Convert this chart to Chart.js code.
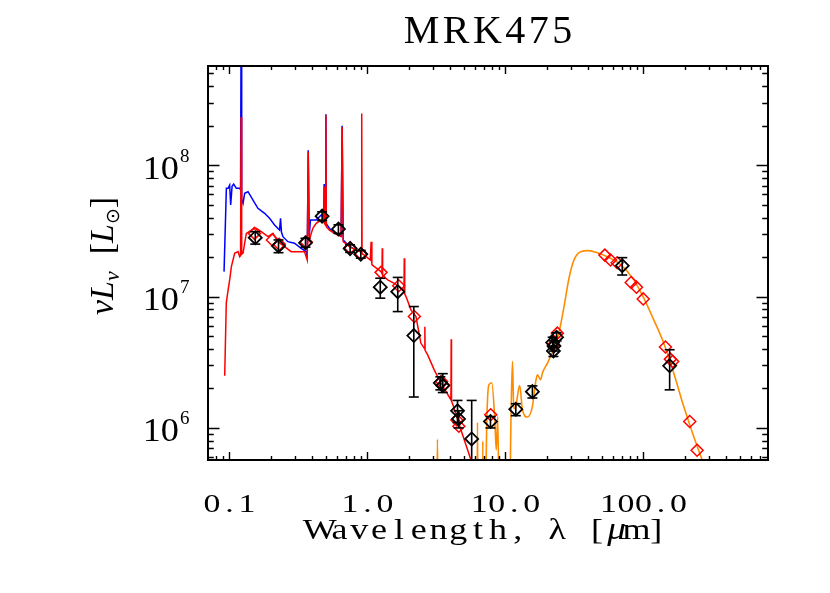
<!DOCTYPE html>
<html>
<head>
<meta charset="utf-8">
<script src="https://cdn.jsdelivr.net/npm/chart.js@4.4.0/dist/chart.umd.min.js"></script>
<style>
html, body { margin: 0; padding: 0; background: #fff; }
#wrap { width: 830px; height: 593px; }
</style>
</head>
<body>
<div id="wrap"><canvas id="sed" width="830" height="593"></canvas></div>
<script>
const titleText = 'MRK475'

// axis ranges and tick labels
const xRange = [0.07, 800]
const yRange = [5.7e5, 5.7e8]
const xTickValues = [0.1, 1, 10, 100]
const xTickLabels = ['0.1', '1.0', '10.0', '100.0']
const yTickValues = [1e6, 1e7, 1e8]
const yTickExp = ['6', '7', '8']

// unattenuated stellar model (blue)
const blueWave = [0.0915, 0.0951, 0.0979, 0.1005, 0.1022, 0.1046, 0.1074, 0.1123, 0.1187, 0.1205, 0.1216, 0.1228,
    0.1256, 0.129, 0.1365, 0.1483, 0.161, 0.18, 0.1955, 0.2126, 0.231, 0.2348, 0.2385, 0.2444, 0.2655, 0.2965,
    0.3313, 0.3605, 0.3664, 0.3727, 0.379, 0.387, 0.4256, 0.4626, 0.483, 0.4861, 0.489, 0.4975, 0.5007, 0.504,
    0.531, 0.577, 0.645, 0.6563, 0.668, 0.741, 0.829]
const blueLum = [1.55e7, 6.67e7, 6.67e7, 7.06e7, 4.98e7, 6.93e7, 7.18e7, 6.67e7, 6.67e7, 6.5e7, 1e9, 5.5e7,
    5.13e7, 6.11e7, 6.29e7, 5.43e7, 4.70e7, 4.31e7, 3.95e7, 3.51e7, 3.21e7, 3.95e7, 3.1e7, 2.86e7, 2.62e7, 2.55e7,
    2.33e7, 2.2e7, 1.96e7, 1.3e8, 2.9e7, 3.83e7, 3.83e7, 4.18e7, 4.0e7, 7.2e7, 3.9e7, 3.8e7, 2.45e8, 3.6e7,
    3.3e7, 3.1e7, 2.9e7, 2.0e8, 2.7e7, 2.42e7, 2.26e7]

// attenuated stellar model (red)
const redWave = [0.0925, 0.095, 0.0979, 0.1005, 0.1034, 0.1092, 0.1156, 0.1187, 0.1205, 0.1216, 0.1228, 0.1256,
    0.1327, 0.1443, 0.1567, 0.1703, 0.1905, 0.207, 0.225, 0.251, 0.2806, 0.314, 0.35, 0.3664, 0.3727, 0.379,
    0.4027, 0.4256, 0.4626, 0.483, 0.4861, 0.489, 0.4975, 0.5007, 0.504, 0.531, 0.577, 0.645, 0.6563, 0.668,
    0.741, 0.829, 0.905, 0.91, 0.915, 0.951, 1.05, 1.064, 1.078, 1.124, 1.256, 1.275, 1.282, 1.29, 1.404, 1.567,
    1.704, 1.84, 1.851, 1.865, 1.905, 2.07, 2.25, 2.44, 2.6, 2.61, 2.62, 2.735, 3.05, 3.41, 4.03, 4.05, 4.07,
    4.17, 4.76, 5.62, 6.11]
const redLum = [2.5e6, 9.0e6, 1.12e7, 1.34e7, 1.69e7, 2.14e7, 2.20e7, 2.01e7, 2.05e7, 2.33e8, 2.10e7, 2.14e7,
    3.03e7, 3.21e7, 3.31e7, 3.12e7, 2.86e7, 3.03e7, 2.62e7, 2.40e7, 2.20e7, 2.20e7, 2.20e7, 1.90e7, 1.27e8, 2.70e7,
    3.31e7, 3.61e7, 3.83e7, 3.70e7, 6.90e7, 3.60e7, 3.50e7, 2.40e8, 3.40e7, 3.21e7, 3.03e7, 2.86e7, 1.96e8, 2.62e7,
    2.40e7, 2.26e7, 2.18e7, 2.48e8, 2.12e7, 2.07e7, 1.9e7, 2.62e7, 1.75e7, 1.69e7, 1.55e7, 1.5e7, 2.33e7, 1.45e7, 1.34e7, 1.26e7,
    1.19e7, 1.1e7, 1.96e7, 1.05e7, 1.0e7, 7.93e6, 7.05e6, 4.43e6, 4.0e6, 5.9e6, 3.9e6, 3.6e6, 2.77e6, 2.2e6, 1.64e6, 4.74e6, 1.6e6,
    1.5e6, 9.7e5, 5.74e5, 4.4e5]

// dust emission model (orange)
const dustWave = [3.15, 3.22, 3.28, 6.2, 6.28, 6.36, 6.8, 6.86, 6.92, 7.07, 7.34, 7.59, 7.97, 8.38, 8.59, 8.81, 9.1,
    10.58, 11.0, 11.26, 11.5, 11.89, 12.7, 13.29, 14.45, 15.7, 16.6, 17.06, 18.0, 18.55, 20.2, 22.5, 24.4, 26.6,
    28.9, 31.4, 35.1, 40.3, 46.3, 54.7, 68.2, 85.2, 100.7, 118.9, 140.4, 165.9, 196, 231.5, 266, 331]
const dustLum = [1e5, 8.2e5, 1e5, 1e5, 1.10e6, 1e5, 1e5, 7.9e5, 1e5, 1e5, 1.16e6, 2.13e6, 2.21e6, 1.16e6, 6.8e5, 1.22e6, 1e5,
    1e5, 1.3e6, 3.21e6, 1.4e6, 1.46e6, 2.10e6, 1.38e6, 1.21e6, 1.46e6, 2.26e6, 2.54e6, 2.33e6, 2.62e6, 3.12e6, 4.06e6, 5.27e6, 8.4e6,
    1.38e7, 1.90e7, 2.20e7, 2.24e7, 2.16e7, 2.01e7, 1.76e7, 1.34e7, 9.73e6, 6.65e6, 4.43e6, 2.62e6, 1.46e6, 8.6e5, 5.74e5, 2.8e5]

// model photometry (red diamonds)
const modelWave = [0.152, 0.205, 0.23, 0.36, 0.75, 0.9, 1.256, 1.686, 2.19, 3.45, 3.55, 4.45, 4.6, 7.83, 22.3, 23.8,
    52.6, 57.8, 64.6, 81.6, 89.1, 99.7, 144.5, 157, 163, 216.6, 245]
const modelLum = [3.03e7, 2.70e7, 2.50e7, 2.6e7, 2.35e7, 2.12e7, 1.53e7, 1.21e7, 7.05e6, 2.26e6, 2.12e6, 1.15e6, 1.03e6, 1.26e6, 4.3e6, 5.27e6,
    2.07e7, 1.90e7, 1.81e7, 1.28e7, 1.18e7, 9.6e6, 4.13e6, 3.34e6, 3.21e6, 1.12e6, 6.76e5]

// observed photometry (black diamonds) with errors
const obsWave = [0.154, 0.227, 0.356, 0.47, 0.617, 0.75, 0.896, 1.24, 1.66, 2.17, 3.38, 3.52, 4.5, 4.58, 5.7, 7.8,
    11.9, 15.7, 22.0, 22.3, 22.5, 23.5, 70.3, 155]
const obsLum = [2.81e7, 2.43e7, 2.57e7, 4.10e7, 3.27e7, 2.32e7, 2.10e7, 1.18e7, 1.09e7, 5.05e6, 2.20e6, 2.10e6, 1.35e6, 1.17e6, 8.25e5, 1.12e6,
    1.39e6, 1.89e6, 4.47e6, 3.86e6, 4.2e6, 4.91e6, 1.72e7, 2.97e6]
const obsLo = [2.51e7, 2.16e7, 2.38e7, 3.8e7, 3.03e7, 2.17e7, 1.96e7, 9.73e6, 7.69e6, 1.72e6, 1.95e6, 1.86e6, 1.10e6, 1.0e6, 3e5, 1.0e6,
    1.24e6, 1.69e6, 4.1e6, 3.5e6, 3.85e6, 4.6e6, 1.46e7, 1.95e6]
const obsHi = [3.12e7, 2.70e7, 2.78e7, 4.42e7, 3.52e7, 2.48e7, 2.25e7, 1.38e7, 1.40e7, 8.4e6, 2.45e6, 2.59e6, 1.62e6, 1.35e6, 1.62e6, 1.22e6,
    1.53e6, 2.09e6, 4.9e6, 4.2e6, 4.6e6, 5.3e6, 1.98e7, 3.94e6]

function pairs(xs, ys) {
    return xs.map((v, i) => ({ x: v, y: ys[i] }))
}

const errData = []
obsWave.forEach((w, i) => {
    errData.push({ x: w, y: obsLo[i] }, { x: w, y: obsHi[i] }, { x: w, y: null })
})

// typewriter-like text: each glyph centred in a fixed cell, widened a little
function drawCells(ctx, text, cx, base, cell, sx, fontFor) {
    const chars = Array.from(text)
    let px = cx - chars.length * cell / 2 + cell / 2
    ctx.textAlign = 'center'
    chars.forEach(ch => {
        ctx.font = fontFor(ch)
        ctx.save()
        ctx.translate(px, base)
        ctx.scale(sx, 1)
        ctx.fillText(ch, 0, 0)
        ctx.restore()
        px += cell
    })
}
function drawSpaced(ctx, text, cx, base, gap) {
    const chars = Array.from(text)
    let w = 0
    chars.forEach(ch => { w += ctx.measureText(ch).width })
    w += gap * (chars.length - 1)
    let px = cx - w / 2
    ctx.textAlign = 'left'
    chars.forEach(ch => {
        ctx.fillText(ch, px, base)
        px += ctx.measureText(ch).width + gap
    })
}
function drawPieces(ctx, pieces, startX, baseY) {
    let px = startX
    pieces.forEach(p => {
        ctx.font = p.f
        ctx.fillText(p.t, px, baseY + (p.dy || 0))
        px += ctx.measureText(p.t).width
    })
}
function piecesWidth(ctx, pieces) {
    let w = 0
    pieces.forEach(p => { ctx.font = p.f; w += ctx.measureText(p.t).width })
    return w
}

// IDL style box with inward ticks on all four sides, plus texts
const idlAxes = {
    id: 'idlAxes',
    afterDraw(chart) {
        const ctx = chart.ctx
        const a = chart.chartArea
        const xs = chart.scales.x, ys = chart.scales.y
        ctx.save()
        ctx.strokeStyle = '#000'
        ctx.lineWidth = 1.4
        ctx.beginPath()
        for (let d = -2; d <= 3; d++) {
            for (let m = 1; m <= 9; m++) {
                const v = m * Math.pow(10, d)
                if (v > xRange[0] && v < xRange[1]) {
                    const px = Math.round(xs.getPixelForValue(v)) + 0.5
                    const len = m === 1 ? 8 : 4
                    ctx.moveTo(px, a.bottom); ctx.lineTo(px, a.bottom - len)
                    ctx.moveTo(px, a.top); ctx.lineTo(px, a.top + len)
                }
            }
        }
        for (let d = 5; d <= 8; d++) {
            for (let m = 1; m <= 9; m++) {
                const v = m * Math.pow(10, d)
                if (v > yRange[0] && v < yRange[1]) {
                    const py = Math.round(ys.getPixelForValue(v)) + 0.5
                    const len = m === 1 ? 11.5 : 5.8
                    ctx.moveTo(a.left, py); ctx.lineTo(a.left + len, py)
                    ctx.moveTo(a.right, py); ctx.lineTo(a.right - len, py)
                }
            }
        }
        ctx.stroke()
        ctx.lineWidth = 2
        ctx.strokeRect(a.left, a.top, a.right - a.left, a.bottom - a.top)

        ctx.fillStyle = '#000'
        ctx.textBaseline = 'alphabetic'
        const serif = '"Liberation Serif", "DejaVu Serif", serif'

        ctx.font = '40px ' + serif
        drawSpaced(ctx, titleText, (a.left + a.right) / 2, 43, 3.5)

        xTickValues.forEach((v, i) => {
            drawCells(ctx, xTickLabels[i], xs.getPixelForValue(v), 512, 17.5, 1.3, () => '26px ' + serif)
        })

        yTickValues.forEach((v, i) => {
            const py = ys.getPixelForValue(v)
            ctx.save()
            ctx.translate(179, py + 13.5)
            ctx.scale(1.1, 1)
            ctx.textAlign = 'right'
            ctx.font = '33px ' + serif
            ctx.fillText('10', 0, 0)
            ctx.restore()
            ctx.textAlign = 'left'
            ctx.font = '19px ' + serif
            ctx.fillText(yTickExp[i], 180, py - 3.5)
        })

        drawCells(ctx, 'Wavelength, \u03bb [\u03bcm]', (a.left + a.right) / 2, 539, 19.8, 1.2,
            ch => (ch === '\u03bc' ? 'italic 31px ' : '30px ') + serif)

        ctx.textAlign = 'left'
        const it = 'italic 34px ' + serif
        const rm = '34px ' + serif
        const yTitle = [
            { t: '\u03bd', f: it },
            { t: 'L', f: it },
            { t: '\u03bd', f: 'italic 22px ' + serif, dy: 6 },
            { t: '  [', f: rm },
            { t: 'L', f: it },
            { t: '\u2299', f: '19px "DejaVu Sans"', dy: 6 },
            { t: ']', f: rm }
        ]
        const yw = piecesWidth(ctx, yTitle)
        ctx.translate(113, 256)
        ctx.rotate(-Math.PI / 2)
        drawPieces(ctx, yTitle, -yw / 2, 0)
        ctx.restore()
    }
}

const ctx = document.getElementById('sed')

new Chart(ctx, {
    type: 'scatter',
    data: {
        datasets: [
            {
                data: pairs(obsWave, obsLum),
                pointStyle: 'rectRot',
                pointRadius: 6.5,
                borderColor: '#000',
                backgroundColor: 'rgba(0,0,0,0)',
                borderWidth: 1.8,
                order: 0
            },
            {
                data: errData,
                showLine: true,
                spanGaps: false,
                borderColor: '#000',
                borderWidth: 1.6,
                pointStyle: 'line',
                pointRadius: 5,
                pointBorderColor: '#000',
                pointBorderWidth: 1.6,
                order: 1
            },
            {
                data: pairs(modelWave, modelLum),
                pointStyle: 'rectRot',
                pointRadius: 6,
                borderColor: '#ff0000',
                backgroundColor: 'rgba(0,0,0,0)',
                borderWidth: 1.5,
                order: 2
            },
            {
                data: pairs(redWave, redLum),
                showLine: true,
                borderColor: '#ff0000',
                borderWidth: 1.5,
                pointRadius: 0,
                order: 3
            },
            {
                data: pairs(blueWave, blueLum),
                showLine: true,
                borderColor: '#0000ff',
                borderWidth: 1.5,
                pointRadius: 0,
                order: 4
            },
            {
                data: pairs(dustWave, dustLum),
                showLine: true,
                borderColor: 'rgb(255,140,0)',
                borderWidth: 1.6,
                pointRadius: 0,
                cubicInterpolationMode: 'monotone',
                order: 5
            }
        ]
    },
    options: {
        responsive: false,
        animation: false,
        devicePixelRatio: 1,
        layout: { padding: { left: 208, top: 66, right: 62, bottom: 133 } },
        plugins: { legend: { display: false }, tooltip: { enabled: false } },
        scales: {
            x: { type: 'logarithmic', min: xRange[0], max: xRange[1], display: false },
            y: { type: 'logarithmic', min: yRange[0], max: yRange[1], display: false }
        }
    },
    plugins: [idlAxes]
})
</script>
</body>
</html>
